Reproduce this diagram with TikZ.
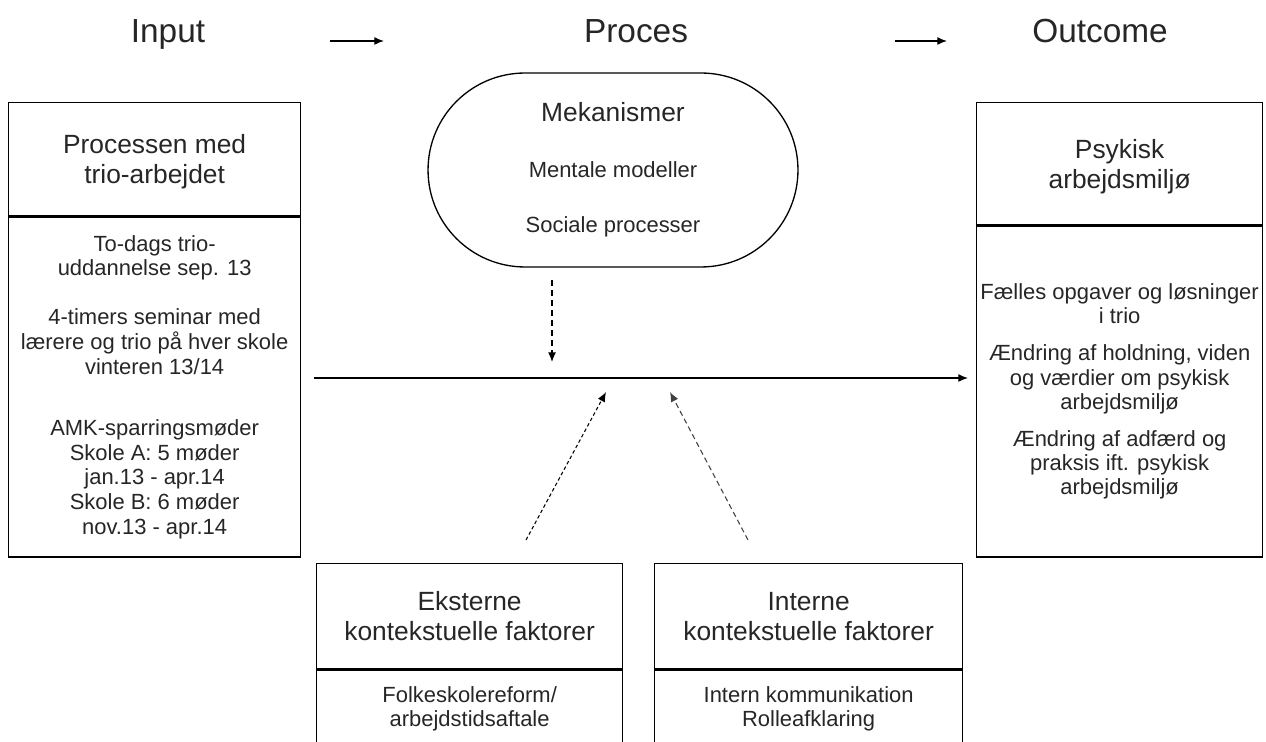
\documentclass[tikz,border=0pt]{standalone}
\usepackage{fontspec}
\setmainfont{Liberation Sans}
\usetikzlibrary{arrows.meta,positioning}

\begin{document}
\begin{tikzpicture}[x=0.02cm,y=-0.02cm,>={Latex[length=5.5pt,width=4.5pt]},
  every node/.style={text=black!85},
  head/.style={font=\fontsize{19}{23}\selectfont,anchor=base},
  titlebox/.style={draw,line width=0.75pt,align=center,inner sep=0pt,text depth=0pt,font=\fontsize{15}{17}\selectfont},
  bodybox/.style={draw,line width=0.75pt,align=center,inner sep=0pt,font=\fontsize{12.5}{14}\selectfont},
  flow/.style={->,line width=0.7pt},
  infl/.style={->,line width=0.6pt}]
  \path[use as bounding box,clip] (0,0) rectangle (1266,742);

  % Headings
  \node[head] (hIn) at (168,43) {Input};
  \node[head] (hProc) at (636,43) {Proces};
  \node[head] (hOut) at (1100,43) {Outcome};
  \coordinate (a1s) at (330,41); \coordinate (a1e) at (384,41);
  \coordinate (a2s) at (895,41); \coordinate (a2e) at (947,41);
  \draw[flow] (a1s) -- (a1e);
  \draw[flow] (a2s) -- (a2e);

  % Input
  \node[titlebox,minimum width=5.84cm,minimum height=2.26cm,anchor=north west] (inT) at (8,102)
    {Processen med\\trio-arbejdet};
  \node[bodybox,minimum width=5.84cm,minimum height=6.8cm,anchor=north] (inB) at (inT.south)
    {To-dags trio-\\uddannelse sep. 13\\[14pt]4-timers seminar med\\lærere og trio på hver skole\\vinteren 13/14\\[21pt]AMK-sparringsmøder\\Skole A: 5 møder\\jan.13 - apr.14\\Skole B: 6 møder\\nov.13 - apr.14};

  % Proces
  \node[draw,line width=0.75pt,rounded corners=1.94cm,minimum width=7.4cm,minimum height=3.88cm,
    align=center,font=\fontsize{12.5}{31.6}\selectfont] (mech) at (613,170)
    {{\fontsize{15}{17}\selectfont Mekanismer}\\Mentale modeller\\Sociale processer};

  % Outcome
  \node[titlebox,minimum width=5.72cm,minimum height=2.44cm,anchor=north west] (outT) at (976,102)
    {Psykisk\\arbejdsmiljø};
  \node[bodybox,minimum width=5.72cm,minimum height=6.62cm,anchor=north,font=\fontsize{12.5}{13.7}\selectfont] (outB) at (outT.south)
    {Fælles opgaver og løsninger\\i trio\\[7.4pt]Ændring af holdning, viden\\og værdier om psykisk\\arbejdsmiljø\\[7.4pt]Ændring af adfærd og\\praksis ift. psykisk\\arbejdsmiljø};

  % Context
  \node[titlebox,minimum width=6.12cm,minimum height=2.1cm,anchor=north west] (extT) at (316,563)
    {Eksterne\\kontekstuelle faktorer};
  \node[bodybox,minimum width=6.12cm,minimum height=1.56cm,anchor=north] (extB) at (extT.south)
    {Folkeskolereform/\\arbejdstidsaftale};
  \node[titlebox,minimum width=6.16cm,minimum height=2.1cm,anchor=north west] (intT) at (654,563)
    {Interne\\kontekstuelle faktorer};
  \node[bodybox,minimum width=6.16cm,minimum height=1.56cm,anchor=north] (intB) at (intT.south)
    {Intern kommunikation\\Rolleafklaring};

  % Connectors
  \coordinate (flowS) at (314,378); \coordinate (flowE) at (968,378);
  \coordinate (mechS) at (552,280); \coordinate (mechE) at (552,362);
  \coordinate (extS) at (526,540); \coordinate (extE) at (606,392);
  \coordinate (intS) at (748,540); \coordinate (intE) at (670,392);
  \draw[flow] (flowS) -- (flowE);
  \draw[infl,dash pattern=on 3.5pt off 2.2pt] (mechS) -- (mechE);
  \draw[infl,dash pattern=on 2pt off 1.5pt] (extS) -- (extE);
  \draw[infl,black!75,dash pattern=on 3pt off 2pt] (intS) -- (intE);
\end{tikzpicture}
\end{document}
